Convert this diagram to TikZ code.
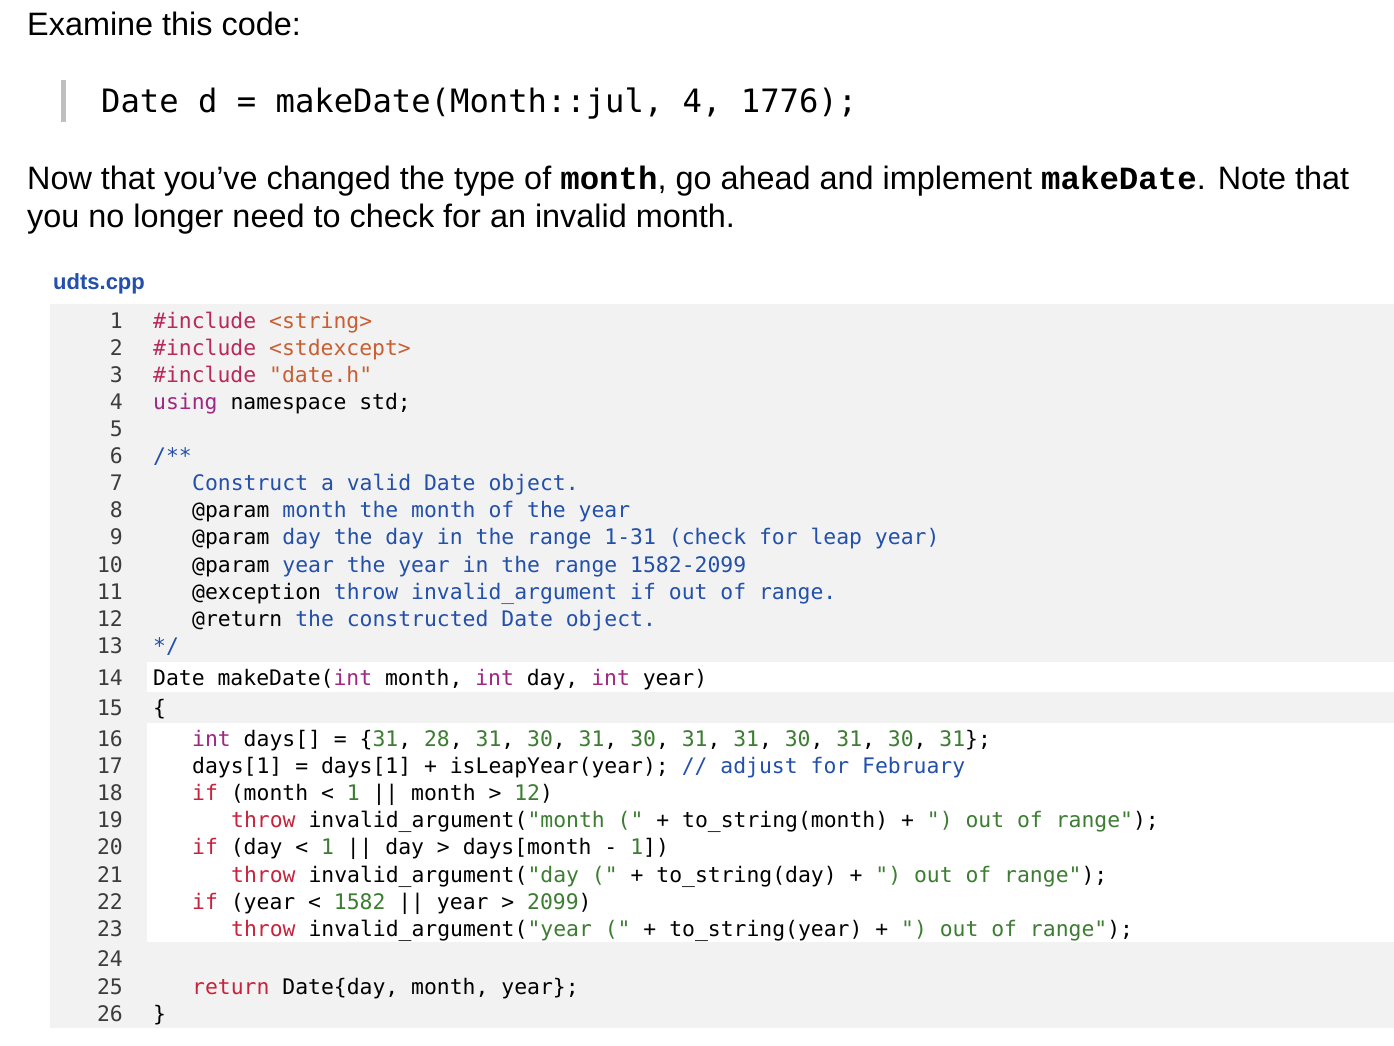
\documentclass[tikz,border=0pt]{standalone}
\usepackage{fontspec}
\setmainfont[Ligatures=ResetAll]{Liberation Sans}
\newfontfamily\cf{DejaVu Sans Mono}
\newfontfamily\im{Liberation Mono}
\definecolor{pp}{RGB}{185,40,90}
\definecolor{orn}{RGB}{200,95,50}
\definecolor{cmt}{RGB}{35,80,170}
\definecolor{kwd}{RGB}{160,40,130}
\definecolor{num}{RGB}{60,125,50}
\definecolor{red1}{RGB}{200,35,60}
\definecolor{lnc}{RGB}{60,60,60}
\definecolor{bg}{RGB}{242,242,242}
\newcommand{\PP}[1]{\textcolor{pp}{#1}}
\newcommand{\OR}[1]{\textcolor{orn}{#1}}
\newcommand{\CM}[1]{\textcolor{cmt}{#1}}
\newcommand{\KW}[1]{\textcolor{kwd}{#1}}
\newcommand{\NU}[1]{\textcolor{num}{#1}}
\newcommand{\RD}[1]{\textcolor{red1}{#1}}
\begin{document}
\begin{tikzpicture}[x=1pt,y=-1pt,
  code/.style={anchor=base west,inner sep=0pt,font=\cf\fontsize{21.4}{24}\selectfont},
  lnum/.style={anchor=base east,inner sep=0pt,text=lnc,font=\cf\fontsize{21.4}{24}\selectfont},
  prose/.style={anchor=base west,inner sep=0pt,font=\fontsize{32.4}{36}\selectfont}]
\useasboundingbox (0,0) rectangle (1394,1046);
\fill[white] (0,0) rectangle (1394,1046);
\node[prose] (t1) at (27,36) {Examine this code:};
\fill[gray!50] (61,80) rectangle (66,122);
\node[anchor=base west,inner sep=0pt,font=\cf\fontsize{32.2}{36}\selectfont] (c0) at (101,113) {Date d = makeDate(Month::jul, 4, 1776);};
\node[prose] (t2) at (27,189) {Now that you've changed the type of {\im\bfseries month}, go ahead and implement {\im\bfseries makeDate}. Note that};
\node[prose] (t3) at (27,227) {you no longer need to check for an invalid month.};
\node[anchor=base west,inner sep=0pt,font=\bfseries\fontsize{22}{26}\selectfont,text=cmt] (fn) at (53,289) {udts.cpp};
\fill[bg] (50,304) rectangle (1394,1028);
\fill[white] (147,662) rectangle (1394,692);
\fill[white] (147,723) rectangle (1394,942);
\foreach \n/\y in {1/328,2/355,3/382,4/409,5/436,6/463,7/490,8/517,9/544,10/572,11/599,12/626,13/653,14/685,15/715,16/746,17/773,18/800,19/827,20/854,21/882,22/909,23/936,24/966,25/994,26/1021}
  \node[lnum] (n\n) at (123,\y) {\n};
\node[code] (l1) at (153,328) {\PP{\#include} \OR{<string>}};
\node[code] (l2) at (153,355) {\PP{\#include} \OR{<stdexcept>}};
\node[code] (l3) at (153,382) {\PP{\#include} \OR{"date.h"}};
\node[code] (l4) at (153,409) {\KW{using} namespace std;};
\node[code] (l6) at (153,463) {\CM{/**}};
\node[code] (l7) at (192,490) {\CM{Construct a valid Date object.}};
\node[code] (l8) at (192,517) {@param \CM{month the month of the year}};
\node[code] (l9) at (192,544) {@param \CM{day the day in the range 1-31 (check for leap year)}};
\node[code] (l10) at (192,572) {@param \CM{year the year in the range 1582-2099}};
\node[code] (l11) at (192,599) {@exception \CM{throw invalid\_argument if out of range.}};
\node[code] (l12) at (192,626) {@return \CM{the constructed Date object.}};
\node[code] (l13) at (153,653) {\CM{*/}};
\node[code] (l14) at (153,685) {Date makeDate(\KW{int} month, \KW{int} day, \KW{int} year)};
\node[code] (l15) at (153,715) {\{};
\node[code] (l16) at (192,746) {\KW{int} days[] = \{\NU{31}, \NU{28}, \NU{31}, \NU{30}, \NU{31}, \NU{30}, \NU{31}, \NU{31}, \NU{30}, \NU{31}, \NU{30}, \NU{31}\};};
\node[code] (l17) at (192,773) {days[1] = days[1] + isLeapYear(year); \CM{// adjust for February}};
\node[code] (l18) at (192,800) {\RD{if} (month < \NU{1} || month > \NU{12})};
\node[code] (l19) at (231,827) {\RD{throw} invalid\_argument(\NU{"month ("} + to\_string(month) + \NU{") out of range"});};
\node[code] (l20) at (192,854) {\RD{if} (day < \NU{1} || day > days[month - \NU{1}])};
\node[code] (l21) at (231,882) {\RD{throw} invalid\_argument(\NU{"day ("} + to\_string(day) + \NU{") out of range"});};
\node[code] (l22) at (192,909) {\RD{if} (year < \NU{1582} || year > \NU{2099})};
\node[code] (l23) at (231,936) {\RD{throw} invalid\_argument(\NU{"year ("} + to\_string(year) + \NU{") out of range"});};
\node[code] (l25) at (192,994) {\RD{return} Date\{day, month, year\};};
\node[code] (l26) at (153,1021) {\}};
\end{tikzpicture}
\end{document}
